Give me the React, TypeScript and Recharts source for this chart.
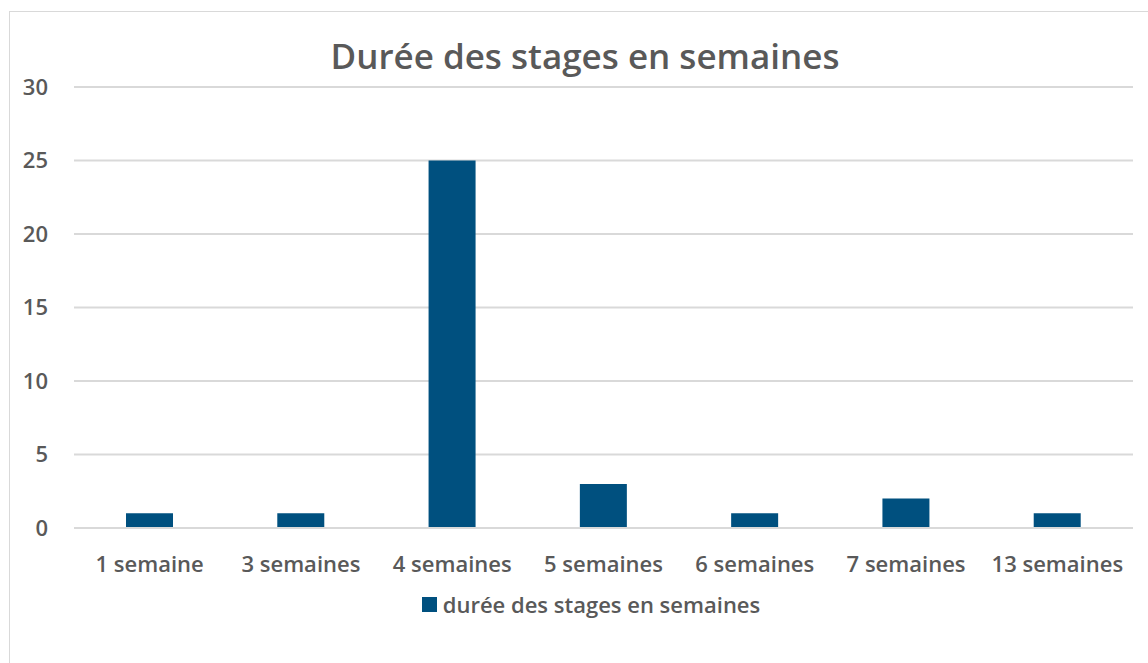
import { BarChart, Bar, XAxis, YAxis, CartesianGrid, Legend } from "recharts";

const categories = ["1 semaine", "3 semaines", "4 semaines", "5 semaines", "6 semaines", "7 semaines", "13 semaines"];
const counts = [1, 1, 25, 3, 1, 2, 1];
const yTicks = [0, 5, 10, 15, 20, 25, 30];

const seriesName = "durée des stages en semaines";
const data = categories.map((c, i) => ({ name: c, value: counts[i] }));

const FONT = "'Open Sans', 'Noto Sans', sans-serif";
const TEXT = "#595959";
const BAR = "#00507f";

function LegendBox() {
  return (
    <div style={{ display: "flex", alignItems: "center", justifyContent: "center", fontFamily: FONT, fontWeight: 600, fontSize: 22, color: TEXT, lineHeight: "30px", paddingLeft: 12 }}>
      <span style={{ width: 15, height: 15, background: BAR, display: "inline-block", marginRight: 6 }} />
      {seriesName}
    </div>
  );
}

export default function App() {
  return (
    <div style={{ position: "fixed", left: 0, top: 0, width: 1148, height: 663, background: "#fff", overflow: "hidden" }}>
      <div style={{ position: "absolute", left: 9, top: 11, width: 1160, height: 680, border: "1px solid #d9d9d9", boxSizing: "border-box" }} />
      <div style={{ position: "absolute", left: 0, top: 31, width: 1170, textAlign: "center", fontFamily: FONT, fontWeight: 600, fontSize: 35, color: TEXT, lineHeight: "50px" }}>
        Durée des stages en semaines
      </div>
      <BarChart
        width={1148}
        height={663}
        data={data}
        margin={{ top: 87, right: 15, left: 14, bottom: 0 }}
        style={{ position: "absolute", left: 0, top: 0 }}
      >
        <CartesianGrid vertical={false} stroke="#d9d9d9" strokeWidth={2} />
        <XAxis
          dataKey="name"
          axisLine={{ stroke: "#d9d9d9", strokeWidth: 2 }}
          tickLine={false}
          tickSize={0}
          tickMargin={28}
          height={135}
          interval={0}
          tick={{ fill: TEXT, fontSize: 22, fontFamily: FONT, fontWeight: 600 }}
        />
        <YAxis
          domain={[0, 30]}
          ticks={yTicks}
          width={60}
          axisLine={false}
          tickLine={false}
          tickSize={0}
          tickMargin={26}
          tick={{ fill: TEXT, fontSize: 22, fontFamily: FONT, fontWeight: 600 }}
        />
        <Legend
          content={<LegendBox />}
          layout="horizontal"
          verticalAlign="middle"
          wrapperStyle={{ left: 0, width: 1170, top: 589 }}
        />
        <Bar dataKey="value" name={seriesName} fill={BAR} barSize={47} isAnimationActive={false} />
      </BarChart>
    </div>
  );
}
